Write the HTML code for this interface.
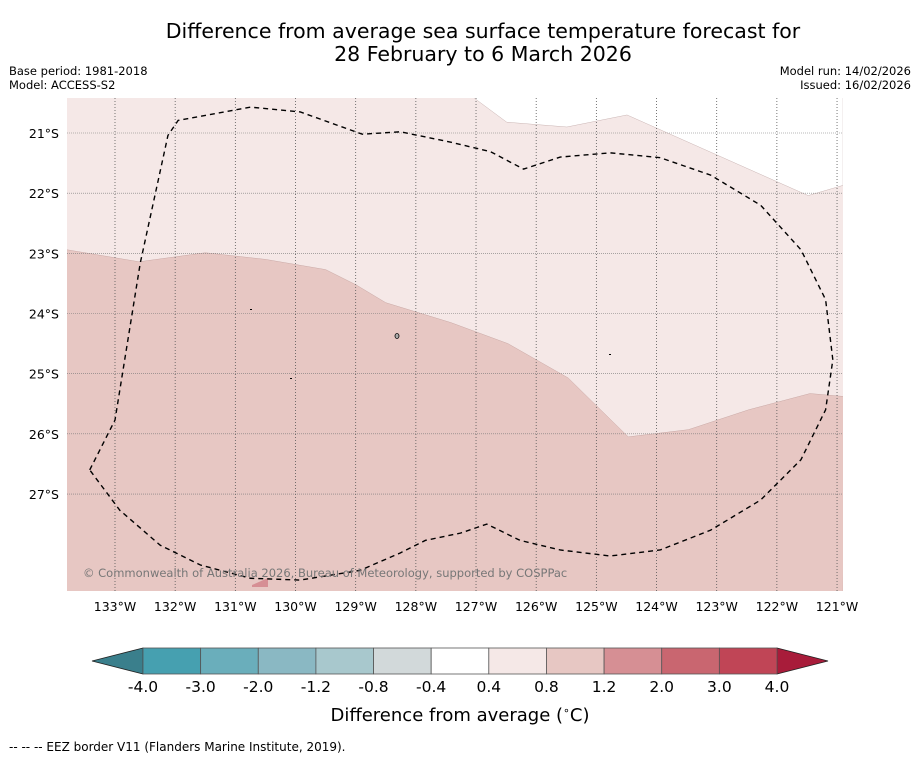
<!DOCTYPE html>
<html><head><meta charset="utf-8"><style>
body{margin:0;background:#fff;font-family:"Liberation Sans","DejaVu Sans",sans-serif}
svg{display:block}
</style></head><body>
<svg id="chart" width="919" height="758" xmlns="http://www.w3.org/2000/svg">
<rect width="919" height="758" fill="#fff"/>
<text x="483" y="38" text-anchor="middle" font-size="20.5" font-family="DejaVu Sans, sans-serif">Difference from average sea surface temperature forecast for</text>
<text x="483" y="61" text-anchor="middle" font-size="20.5" font-family="DejaVu Sans, sans-serif">28 February to 6 March 2026</text>
<text x="9" y="75" font-size="11.5" font-family="DejaVu Sans, sans-serif">Base period: 1981-2018</text>
<text x="9" y="89" font-size="11.5" font-family="DejaVu Sans, sans-serif">Model: ACCESS-S2</text>
<text x="911" y="75" text-anchor="end" font-size="11.5" font-family="DejaVu Sans, sans-serif">Model run: 14/02/2026</text>
<text x="911" y="89" text-anchor="end" font-size="11.5" font-family="DejaVu Sans, sans-serif">Issued: 16/02/2026</text>
<g id="map"></g>
<g id="cbar"></g>
<text x="460" y="721" text-anchor="middle" font-size="18" font-family="DejaVu Sans, sans-serif">Difference from average (<tspan font-size="11" dy="-7">∘</tspan><tspan dy="7">C)</tspan></text>
<text x="9" y="751" font-size="12" font-family="DejaVu Sans, sans-serif">--  --  -- EEZ border V11 (Flanders Marine Institute, 2019).</text>
</svg>
<script>
const lonTicks=[-133,-132,-131,-130,-129,-128,-127,-126,-125,-124,-123,-122,-121];
const latTicks=[-21,-22,-23,-24,-25,-26,-27];
const cbarLevels=["-4.0","-3.0","-2.0","-1.2","-0.8","-0.4","0.4","0.8","1.2","2.0","3.0","4.0"];
const cbarColors=["#46a0b0","#6aaebb","#8ab8c3","#a8c8cd","#d2d9da","#ffffff","#f5e8e7","#e7c7c3","#d68f94","#c96670","#c04556"];
const whiteRegion=[[-127.03,-20.42],[-126.49,-20.82],[-125.49,-20.9],[-124.49,-20.7],[-121.48,-22.04],[-120.9,-21.87],[-120.9,-20.0],[-127.2,-20.0]];
const warmBoundary=[[-133.8,-22.94],[-132.6,-23.14],[-131.5,-22.99],[-130.5,-23.1],[-129.5,-23.27],[-129.0,-23.52],[-128.5,-23.82],[-127.42,-24.15],[-126.47,-24.5],[-125.47,-25.07],[-124.47,-26.05],[-123.47,-25.93],[-122.47,-25.6],[-121.45,-25.33],[-120.87,-25.38]];
const eezLine=[[-133.42,-26.6],[-133.0,-25.77],[-132.58,-23.16],[-132.12,-21.04],[-131.95,-20.79],[-130.75,-20.57],[-129.92,-20.65],[-128.89,-21.02],[-128.26,-20.98],[-127.43,-21.15],[-126.76,-21.31],[-126.21,-21.6],[-125.6,-21.4],[-124.77,-21.33],[-123.94,-21.41],[-123.1,-21.7],[-122.27,-22.2],[-121.6,-22.94],[-121.19,-23.77],[-121.07,-24.77],[-121.19,-25.6],[-121.6,-26.43],[-122.27,-27.1],[-123.1,-27.6],[-123.94,-27.93],[-124.77,-28.03],[-125.6,-27.93],[-126.27,-27.77],[-126.82,-27.5],[-127.26,-27.65],[-127.84,-27.77],[-128.26,-27.98],[-128.93,-28.27],[-129.92,-28.43],[-130.75,-28.4],[-131.58,-28.18],[-132.25,-27.85],[-132.92,-27.27],[-133.42,-26.6]];
const X0=67,X1=843,Y0=98,Y1=591;
const x=lon=>115+(lon+133)*60.17;
const y=lat=>133+(-21-lat)*60.17;
const NS="http://www.w3.org/2000/svg";
function mk(tag,attrs,parent){const e=document.createElementNS(NS,tag);for(const k in attrs)e.setAttribute(k,attrs[k]);parent.appendChild(e);return e;}
const map=document.getElementById('map');
const defs=mk('defs',{},map);
const cp=mk('clipPath',{id:'clip'},defs);
mk('rect',{x:X0,y:Y0,width:X1-X0,height:Y1-Y0},cp);
const g=mk('g',{'clip-path':'url(#clip)'},map);
const bg=mk('rect',{x:X0,y:Y0,width:X1-X0,height:Y1-Y0,fill:'#f5e8e7'},g);


const wp=mk('polygon',{points:whiteRegion.map(p=>x(p[0])+','+y(p[1])).join(' '),fill:'#ffffff',stroke:'#c9b4b3','stroke-width':0.5},g);


const wb=warmBoundary.map(p=>x(p[0])+','+y(p[1]));
wb.push(X1+','+(Y1+5));wb.push(X0-5+','+(Y1+5));
const dp=mk('polygon',{points:wb.join(' '),fill:'#e7c7c3',stroke:'#c9a9a6','stroke-width':0.5},g);


const tri=mk('polygon',{points:'252,585 268,578 268,587 252,587',fill:'#d68f94'},g);


lonTicks.forEach(l=>{
  const ln=mk('line',{x1:x(l),x2:x(l),y1:Y0,y2:Y1,stroke:'#555','stroke-width':0.8,'stroke-dasharray':'1,2'},g);
  
  
  const t=mk('text',{x:x(l),y:611,'text-anchor':'middle','font-size':12.5,'font-family':'DejaVu Sans, sans-serif'},map);
  t.textContent=(-l)+'°W';
  
  
});
latTicks.forEach(l=>{
  const ln=mk('line',{x1:X0,x2:X1,y1:y(l),y2:y(l),stroke:'#777','stroke-width':0.6,'stroke-dasharray':'1,1'},g);
  
  
  const t=mk('text',{x:59,y:y(l)+5,'text-anchor':'end','font-size':12.5,'font-family':'DejaVu Sans, sans-serif'},map);
  t.textContent=(-l)+'°S';
  
  
});
const eez=mk('polyline',{points:eezLine.map(p=>x(p[0])+','+y(p[1])).join(' '),fill:'none',stroke:'#000','stroke-width':1.4,'stroke-dasharray':'5,4'},g);


[[250,309],[290,378],[609,354]].forEach(p=>{const d=mk('rect',{x:p[0],y:p[1],width:2,height:1,fill:'#000'},g);

});
const isl=mk('ellipse',{cx:397,cy:336,rx:2,ry:2.5,fill:'#aaa',stroke:'#000','stroke-width':0.8},g);


const cr=mk('text',{x:83,y:577,'font-size':11.5,fill:'#777','font-family':'DejaVu Sans, sans-serif'},g);
cr.textContent='© Commonwealth of Australia 2026, Bureau of Meteorology, supported by COSPPac';


const cb=document.getElementById('cbar');
const CX0=143,CX1=777,CY0=648,CY1=674,n=cbarColors.length,w=(CX1-CX0)/n;
const lt=mk('polygon',{points:`${CX0},${CY0} ${CX0},${CY1} 92,661`,fill:'#3a7f8c',stroke:'#222','stroke-width':0.8},cb);


const rt=mk('polygon',{points:`${CX1},${CY0} ${CX1},${CY1} 828,661`,fill:'#a81c3a',stroke:'#222','stroke-width':0.8},cb);


cbarColors.forEach((c,i)=>{
  const r=mk('rect',{x:CX0+i*w,y:CY0,width:w,height:CY1-CY0,fill:c,stroke:'#555','stroke-width':0.8},cb);
  
  
});
cbarLevels.forEach((v,i)=>{
  const t=mk('text',{x:CX0+i*w,y:692,'text-anchor':'middle','font-size':15.5,'font-family':'DejaVu Sans, sans-serif'},cb);
  t.textContent=v;
  
  
});
</script>
</body></html>
